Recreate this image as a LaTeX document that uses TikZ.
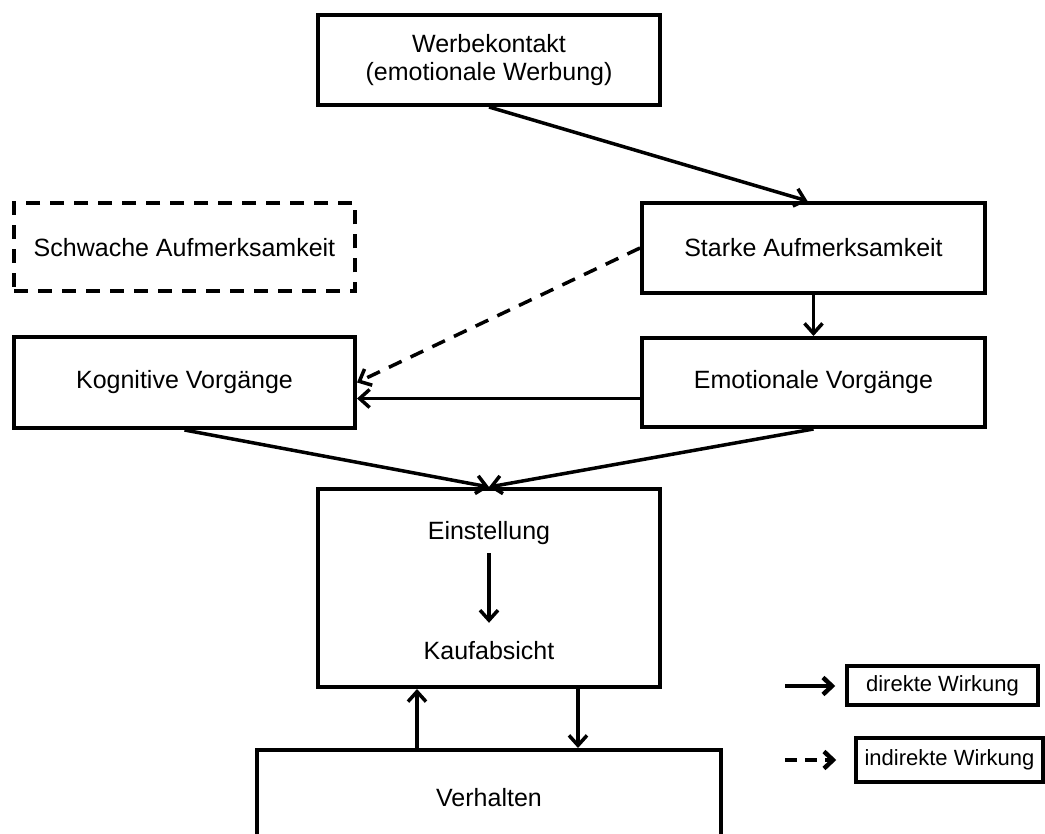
\documentclass[tikz,border=0pt]{standalone}
\usepackage{fontspec}
\setmainfont{Liberation Sans}
\usetikzlibrary{arrows.meta}
\begin{document}
\begin{tikzpicture}[x=1pt,y=-1pt,
  box/.style={draw, rectangle, line width=4pt, inner sep=0pt, align=center,
    font=\fontsize{25}{28}\selectfont},
  dashbox/.style={box, dash pattern=on 14pt off 10pt},
  lbox/.style={draw, rectangle, line width=3.5pt, inner sep=0pt,
    font=\fontsize{22}{26}\selectfont},
  txt/.style={inner sep=0pt, text height=18pt, text depth=5pt,
    font=\fontsize{25}{28}\selectfont},
  tip/.tip={Straight Barb[length=10pt,width=18pt,line width=3.5pt]},
  arr/.style={line width=3.5pt, -tip},
  darr/.style={arr, dash pattern=on 14pt off 10pt},
  larr/.style={line width=4pt, -{Straight Barb[length=9pt,width=17pt,line width=4.5pt]}},
  ldarr/.style={larr, dash pattern=on 12pt off 8pt}]
\useasboundingbox (0,0) rectangle (1045,834);

% boxes
\node[box, minimum width=342pt, minimum height=90pt] (werbe) at (489,60)
  {Werbekontakt\\(emotionale Werbung)};
\node[dashbox, minimum width=341pt, minimum height=88pt] (schwach) at (184.5,247.5)
  {Schwache Aufmerksamkeit};
\node[box, minimum width=343pt, minimum height=90pt] (stark) at (813.5,248)
  {Starke Aufmerksamkeit};
\node[box, minimum width=341pt, minimum height=91pt] (kog) at (184.5,382.5)
  {Kognitive Vorgänge};
\node[box, minimum width=343pt, minimum height=89pt] (emot) at (813.5,382.5)
  {Emotionale Vorgänge};
\node[box, minimum width=342pt, minimum height=198pt] (ek) at (489,588) {};
\node[txt, anchor=base] (einst) at (489,539) {Einstellung};
\node[txt, anchor=base] (kauf) at (489,659) {Kaufabsicht};
\begin{scope}
  \clip (0,0) rectangle (1045,834);
  \node[box, minimum width=464pt, minimum height=95pt] (verh) at (489,797.5)
    {Verhalten};
\end{scope}

% connectors
\draw[arr] (werbe.south) -- ([xshift=-6pt]stark.north);
\draw[arr] (stark.south) -- (emot.north);
\draw[darr] (stark.west) -- (kog.east);
\draw[arr] ([yshift=-16pt]emot.west) -- ([yshift=-16pt]kog.east);
\draw[arr] (kog.south) -- (ek.north);
\draw[arr] (emot.south) -- (ek.north);
\draw[arr, shorten <=9pt, shorten >=18pt] (einst.south) -- (kauf.north);
\draw[arr] (verh.north -| 417,0) -- (ek.south -| 417,0);
\draw[arr] (ek.south -| 578,0) -- (verh.north -| 578,0);

% legend
\node[lbox, minimum width=191pt, minimum height=39pt] (dir) at (942.5,685.5)
  {direkte Wirkung};
\node[lbox, minimum width=187pt, minimum height=44pt] (indir) at (949.5,760)
  {indirekte Wirkung};
\coordinate (ldir) at (785,686);
\coordinate (lindir) at (785,760);
\draw[larr] (ldir) -- ([xshift=-10pt]dir.west |- ldir);
\draw[ldarr] (lindir) -- ([xshift=-18pt]indir.west |- lindir);
\end{tikzpicture}
\end{document}
